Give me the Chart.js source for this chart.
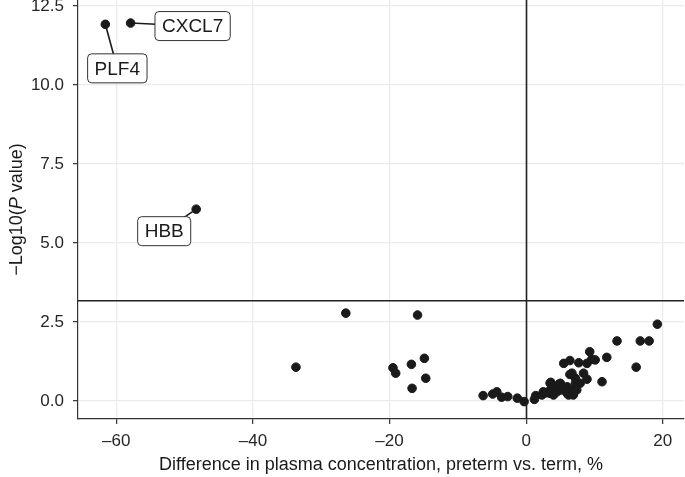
<!DOCTYPE html>
<html>
<head>
<meta charset="utf-8">
<script src="https://cdn.jsdelivr.net/npm/chart.js@4"></script>
<style>
  html, body { margin: 0; padding: 0; background: #fff; overflow: hidden; }
  #wrap { width: 685px; height: 477px; }
</style>
</head>
<body>
<div id="wrap"><canvas id="volcano"></canvas></div>
<script>
// values
const diffPct = [
  -61.6, -57.9, -48.3,
  -33.7, -26.4, -15.9, -19.5, -19.1, -16.8, -14.9, -14.7, -16.7,
  -6.3, -4.9, -4.3, -3.6, -2.7, -1.3, -0.3, 1.2, 1.4, 2.3, 2.5, 2.9, 3.4, 3.5, 3.5, 3.6,
  4.0, 4.4, 4.5, 4.8, 5.0, 5.2, 5.5, 6.0, 6.0, 6.2, 6.4, 6.4, 6.7, 6.9, 6.9, 7.2, 7.2,
  7.4, 7.7, 7.9, 8.4, 8.9, 8.9, 9.3, 9.6, 10.1, 11.1, 11.8, 13.3, 16.1, 16.7, 18.0, 19.2
];
const negLogP = [
  11.92, 11.96, 6.07,
  1.07, 2.78, 2.72, 1.05, 0.88, 1.16, 1.35, 0.72, 0.40,
  0.17, 0.22, 0.29, 0.12, 0.14, 0.09, -0.02, 0.05, 0.17, 0.19, 0.29, 0.26, 0.32, 0.56, 0.24, 0.59,
  0.19, 0.43, 0.29, 0.53, 0.56, 0.35, 1.19, 0.45, 0.24, 0.19, 1.28, 0.84, 0.88, 0.35, 0.19, 0.72, 0.56,
  0.35, 1.21, 0.56, 0.88, 1.19, 0.69, 1.56, 1.32, 1.30, 0.61, 1.38, 1.90, 1.07, 1.90, 1.90, 2.43
];
const geneLabels = ['PLF4', 'CXCL7', 'HBB'];   // first three points
const pThreshold = 3.17;
const xTicks = [-60, -40, -20, 0, 20];
const yTicks = [0, 2.5, 5, 7.5, 10, 12.5];

// label box placement (pixels from the point)
const labelOffsets = { PLF4: [12, 44], CXCL7: [62, 3], HBB: [-32, 22] };

const FONT = '"Liberation Sans", Arial, Helvetica, sans-serif';
const points = diffPct.map((x, i) => ({ x: x, y: negLogP[i] }));

const refLines = {
  id: 'refLines',
  beforeDatasetsDraw(chart) {
    const { ctx, chartArea: a, scales: { x, y } } = chart;
    ctx.save();
    ctx.strokeStyle = '#222';
    ctx.lineWidth = 1.6;
    ctx.beginPath();
    const x0 = Math.round(x.getPixelForValue(0)) + 0.5;
    const yT = y.getPixelForValue(pThreshold);
    ctx.moveTo(x0, a.top); ctx.lineTo(x0, a.bottom);
    ctx.moveTo(a.left, yT); ctx.lineTo(a.right, yT);
    ctx.stroke();
    ctx.restore();
  }
};

const geneBoxes = {
  id: 'geneBoxes',
  afterDatasetsDraw(chart) {
    const { ctx, scales: { x, y } } = chart;
    ctx.save();
    ctx.font = '19px ' + FONT;
    ctx.textAlign = 'center';
    ctx.textBaseline = 'middle';
    geneLabels.forEach((g, i) => {
      const px = x.getPixelForValue(diffPct[i]);
      const py = y.getPixelForValue(negLogP[i]);
      const [dx, dy] = labelOffsets[g];
      const cx = px + dx, cy = py + dy;
      const w = ctx.measureText(g).width + 14, h = 29;
      // connector
      ctx.strokeStyle = '#1a1a1a';
      ctx.lineWidth = 1.6;
      ctx.beginPath();
      ctx.moveTo(px, py);
      ctx.lineTo(cx, cy);
      ctx.stroke();
      ctx.fillStyle = '#fff';
      ctx.lineWidth = 1;
      ctx.strokeStyle = '#333';
      ctx.beginPath();
      ctx.roundRect(cx - w / 2, cy - h / 2, w, h, 4);
      ctx.fill();
      ctx.stroke();
      ctx.fillStyle = '#1a1a1a';
      ctx.fillText(g, cx, cy + 1);
    });
    ctx.restore();
  }
};

// y title with italic P
const yTitle = {
  id: 'yTitle',
  afterDraw(chart) {
    const { ctx, chartArea: a } = chart;
    const parts = [['−Log10(', ''], ['P', 'italic '], [' value)', '']];
    ctx.save();
    ctx.translate(17, (a.top + a.bottom) / 2);
    ctx.rotate(-Math.PI / 2);
    ctx.fillStyle = '#1a1a1a';
    ctx.textBaseline = 'middle';
    let total = 0;
    parts.forEach(p => { ctx.font = p[1] + '18px ' + FONT; total += ctx.measureText(p[0]).width; });
    let cur = -total / 2;
    parts.forEach(p => {
      ctx.font = p[1] + '18px ' + FONT;
      ctx.fillText(p[0], cur, 0);
      cur += ctx.measureText(p[0]).width;
    });
    ctx.restore();
  }
};

new Chart(document.getElementById('volcano'), {
  type: 'scatter',
  data: {
    datasets: [{
      data: points,
      backgroundColor: '#1a1a1a',
      borderColor: '#1a1a1a',
      pointRadius: 4.3,
      pointHoverRadius: 4.3
    }]
  },
  options: {
    responsive: true,
    maintainAspectRatio: false,
    animation: false,
    events: [],
    layout: { autoPadding: false, padding: { top: 0, right: 1, left: 0, bottom: 0 } },
    plugins: { legend: { display: false }, tooltip: { enabled: false } },
    scales: {
      x: {
        min: -65.6, max: 23.1,
        afterBuildTicks: s => { s.ticks = xTicks.map(v => ({ value: v })); },
        afterFit: s => { s.height = 58; s.paddingLeft = 0; s.paddingRight = 0; },
        grid: { color: '#ebebeb', lineWidth: 1.3, tickLength: 5, tickColor: '#333', tickWidth: 1.2 },
        border: { color: '#333', width: 1.2 },
        ticks: {
          color: '#262626', padding: 7,
          font: { family: FONT, size: 17 },
          callback: v => v < 0 ? '–' + Math.abs(v) : String(v)
        },
        title: {
          display: true,
          text: 'Difference in plasma concentration, preterm vs. term, %',
          color: '#1a1a1a', font: { family: FONT, size: 18 },
          padding: { top: 0, bottom: 1 }
        }
      },
      y: {
        min: -0.57, max: 12.69,
        afterBuildTicks: s => { s.ticks = yTicks.map(v => ({ value: v })); },
        afterFit: s => { s.width = 78; s.paddingTop = 0; s.paddingBottom = 0; },
        grid: { color: '#ebebeb', lineWidth: 1.3, tickLength: 5, tickColor: '#333', tickWidth: 1.2 },
        border: { color: '#333', width: 1.2 },
        ticks: {
          color: '#262626', padding: 9,
          font: { family: FONT, size: 17 },
          callback: v => v.toFixed(1)
        }
      }
    }
  },
  plugins: [refLines, geneBoxes, yTitle]
});
</script>
</body>
</html>
